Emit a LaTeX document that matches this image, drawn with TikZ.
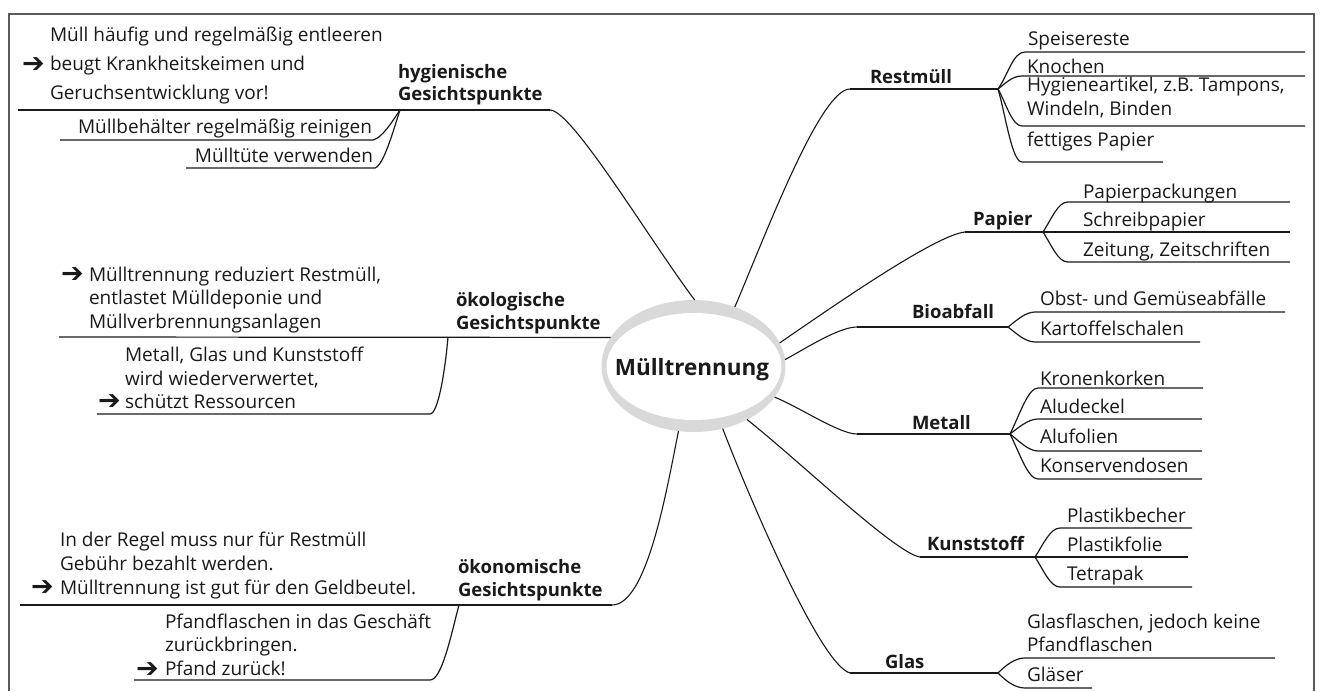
\documentclass[tikz,border=0pt]{standalone}
\usepackage{fontspec}
\setmainfont{Open Sans}
\newfontfamily\symfont{DejaVu Sans}
\usetikzlibrary{shapes.geometric}
\definecolor{ink}{HTML}{1A1A1A}
\definecolor{framegray}{HTML}{5A5A5A}
\definecolor{ring}{HTML}{D9D9D9}
\begin{document}
\begin{tikzpicture}[x=1pt,y=-1pt,
  txt/.style={anchor=base west,inner sep=0pt,outer sep=0pt,text=ink,font=\fontsize{19}{22}\selectfont},
  txtr/.style={txt,anchor=base east},
  lbl/.style={txt,font=\fontsize{18.5}{22}\selectfont\bfseries},
  arr/.style={anchor=center,inner sep=0pt,outer sep=0pt,text=ink,font=\fontsize{27}{27}\selectfont\symfont},
  conn/.style={draw=ink,line width=1.1pt},
  uline/.style={draw=ink,line width=1.2pt},
]
\useasboundingbox (0,0) rectangle (1322,691);
\fill[white] (0,0) rectangle (1322,691);
\draw[framegray,line width=2pt] (9,691) -- (9,14) -- (1314,14) -- (1314,691);

% hub
\node[ellipse,fill=ring,minimum width=184pt,minimum height=132pt,inner sep=0pt,outer sep=0pt] (hub) at (693.5,366) {};
\fill[white] (694,366.5) ellipse [x radius=87.5pt, y radius=53.5pt];
\node[anchor=base,inner sep=0pt,text=ink,font=\fontsize{22.5}{25}\selectfont\bfseries] (title) at (692,375) {Mülltrennung};

% ---------- hygienische Gesichtspunkte
\node[txt] (h1) at (50,41) {Müll häufig und regelmäßig entleeren};
\node[arr] (ha) at (33.5,65) {➔};
\node[txt] (h2) at (50,70) {beugt Krankheitskeimen und};
\node[txt] (h3) at (50,99) {Geruchsentwicklung vor!};
\node[lbl] (hygL1) at (398,78) {hygienische};
\node[lbl] (hygL2) at (398,100) {Gesichtspunkte};
\coordinate (hygS) at (18,110);
\coordinate (hygF) at (400,110);
\coordinate (hygE) at (550,110);
\draw[uline] (hygS) -- (hygE);
\draw[conn] (hygE) .. controls +(22,0) and +(-45,-60) .. (hub.89);
\node[txtr] (h4) at (372,133) {Müllbehälter regelmäßig reinigen};
\coordinate (h4s) at (60,140);
\coordinate (h4e) at (373,140);
\draw[uline] (h4s) -- (h4e) .. controls +(9,-2) and +(-8,12) .. (hygF);
\node[txtr] (h5) at (373,162) {Mülltüte verwenden};
\coordinate (h5s) at (186,168);
\coordinate (h5e) at (375,168);
\draw[uline] (h5s) -- (h5e) .. controls +(9,-3) and +(-6,18) .. (hygF);

% ---------- ökologische Gesichtspunkte
\node[arr] (oa) at (72.5,275) {➔};
\node[txt] (o1) at (89,281) {Mülltrennung reduziert Restmüll,};
\node[txt] (o2) at (89,304) {entlastet Mülldeponie und};
\node[txt] (o3) at (89,328) {Müllverbrennungsanlagen};
\node[lbl] (okoL1) at (456,306) {ökologische};
\node[lbl] (okoL2) at (456,329) {Gesichtspunkte};
\coordinate (okoS) at (59,337);
\coordinate (okoF) at (448,337);
\draw[uline] (okoS) -- (hub.161);
\node[txt] (o4) at (125,361) {Metall, Glas und Kunststoff};
\node[txt] (o5) at (125,385) {wird wiederverwertet,};
\node[arr] (ob) at (109.5,402) {➔};
\node[txt] (o6) at (125,408) {schützt Ressourcen};
\coordinate (o6s) at (97,414);
\coordinate (o6e) at (430,414);
\draw[uline] (o6s) -- (o6e) .. controls +(8,0) and +(-3,35) .. (okoF);

% ---------- ökonomische Gesichtspunkte
\node[txt] (k1) at (60,546) {In der Regel muss nur für Restmüll};
\node[txt] (k2) at (60,570) {Gebühr bezahlt werden.};
\node[arr] (ka) at (42.5,588) {➔};
\node[txt] (k3) at (60,594) {Mülltrennung ist gut für den Geldbeutel.};
\node[lbl] (konL1) at (458,573) {ökonomische};
\node[lbl] (konL2) at (458,596) {Gesichtspunkte};
\coordinate (konS) at (20,605);
\coordinate (konF) at (459,605);
\coordinate (konE) at (612,605);
\draw[uline] (konS) -- (konE);
\draw[conn] (konE) .. controls +(35,0) and +(-12,60) .. (hub.-103);
\node[txt] (k4) at (165,628) {Pfandflaschen in das Geschäft};
\node[txt] (k5) at (165,651) {zurückbringen.};
\node[arr] (kb) at (147.5,670) {➔};
\node[txt] (k6) at (165,675) {Pfand zurück!};
\coordinate (k6s) at (134,680);
\coordinate (k6e) at (430,680);
\draw[uline] (k6s) -- (k6e) .. controls +(12,0) and +(-8,30) .. (konF);

% ---------- Restmüll
\node[lbl] (restL) at (870,83) {Restmüll};
\coordinate (restS) at (850,89);
\coordinate (restF) at (998,89);
\draw[uline] (restS) -- (restF);
\draw[conn] (hub.55) .. controls +(30,-70) and +(-30,0) .. (restS);
\node[txt] (r1) at (1028,45) {Speisereste};
\coordinate (r1s) at (1025,52); \coordinate (r1e) at (1305,52);
\draw[uline] (restF) .. controls +(10,-14) and +(-12,0) .. (r1s) -- (r1e);
\node[txt] (r2) at (1027,73) {Knochen};
\coordinate (r2s) at (1022,76); \coordinate (r2e) at (1305,76);
\draw[uline] (restF) .. controls +(8,-6) and +(-10,0) .. (r2s) -- (r2e);
\node[txt] (r3) at (1027,91) {Hygieneartikel, z.B. Tampons,};
\node[txt] (r3b) at (1027,115) {Windeln, Binden};
\coordinate (r3s) at (1022,126); \coordinate (r3e) at (1305,126);
\draw[uline] (restF) .. controls +(8,14) and +(-10,0) .. (r3s) -- (r3e);
\node[txt] (r4) at (1027,146) {fettiges Papier};
\coordinate (r4s) at (1022,162); \coordinate (r4e) at (1163,162);
\draw[uline] (restF) .. controls +(8,28) and +(-10,0) .. (r4s) -- (r4e);

% ---------- Papier
\node[lbl] (papL) at (973,225) {Papier};
\coordinate (papS) at (965,232);
\coordinate (papF) at (1043,232);
\draw[uline] (papS) -- (papF);
\draw[conn] (hub.15) .. controls +(51,-35) and +(-30,3) .. (papS);
\node[txt] (p1) at (1083,198) {Papierpackungen};
\coordinate (p1s) at (1068,202); \coordinate (p1e) at (1290,202);
\draw[uline] (papF) .. controls +(9,-14) and +(-10,0) .. (p1s) -- (p1e);
\node[txt] (p2) at (1083,226) {Schreibpapier};
\coordinate (p2e) at (1290,232);
\draw[uline] (papF) -- (p2e);
\node[txt] (p3) at (1083,256) {Zeitung, Zeitschriften};
\coordinate (p3s) at (1068,262); \coordinate (p3e) at (1290,262);
\draw[uline] (papF) .. controls +(9,14) and +(-10,0) .. (p3s) -- (p3e);

% ---------- Bioabfall
\node[lbl] (bioL) at (912,318) {Bioabfall};
\coordinate (bioS) at (857,327);
\coordinate (bioF) at (1008,327);
\draw[uline] (bioS) -- (bioF);
\draw[conn] (hub.4) .. controls +(22,-12) and +(-18,0) .. (bioS);
\node[txt] (b1) at (1040,305) {Obst- und Gemüseabfälle};
\coordinate (b1s) at (1035,312); \coordinate (b1e) at (1285,312);
\draw[uline] (bioF) .. controls +(8,-6) and +(-10,0) .. (b1s) -- (b1e);
\node[txt] (b2) at (1040,335) {Kartoffelschalen};
\coordinate (b2s) at (1035,342); \coordinate (b2e) at (1200,342);
\draw[uline] (bioF) .. controls +(8,6) and +(-10,0) .. (b2s) -- (b2e);

% ---------- Metall
\node[lbl] (metL) at (912,429) {Metall};
\coordinate (metS) at (857,434);
\coordinate (metF) at (1010,434);
\draw[uline] (metS) -- (metF);
\draw[conn] (hub.-21) .. controls +(25,10) and +(-18,0) .. (metS);
\node[txt] (m1) at (1040,385) {Kronenkorken};
\coordinate (m1s) at (1038,388); \coordinate (m1e) at (1203,388);
\draw[uline] (metF) .. controls +(10,-20) and +(-10,0) .. (m1s) -- (m1e);
\node[txt] (m2) at (1040,413) {Aludeckel};
\coordinate (m2s) at (1038,419); \coordinate (m2e) at (1202,419);
\draw[uline] (metF) .. controls +(8,-6) and +(-10,0) .. (m2s) -- (m2e);
\node[txt] (m3) at (1040,443) {Alufolien};
\coordinate (m3s) at (1038,451); \coordinate (m3e) at (1202,451);
\draw[uline] (metF) .. controls +(8,6) and +(-10,0) .. (m3s) -- (m3e);
\node[txt] (m4) at (1040,472) {Konservendosen};
\coordinate (m4s) at (1038,479); \coordinate (m4e) at (1202,479);
\draw[uline] (metF) .. controls +(10,20) and +(-10,0) .. (m4s) -- (m4e);

% ---------- Kunststoff
\node[lbl] (kunL) at (927,550) {Kunststoff};
\coordinate (kunS) at (920,557);
\coordinate (kunF) at (1035,557);
\draw[uline] (kunS) -- (kunF);
\draw[conn] (hub.-45) .. controls +(53,42) and +(-25,-4) .. (kunS);
\node[txt] (u1) at (1067,522) {Plastikbecher};
\coordinate (u1s) at (1060,528); \coordinate (u1e) at (1192,528);
\draw[uline] (kunF) .. controls +(8,-12) and +(-10,0) .. (u1s) -- (u1e);
\node[txt] (u2) at (1067,551) {Plastikfolie};
\coordinate (u2e) at (1188,557);
\draw[uline] (kunF) -- (u2e);
\node[txt] (u3) at (1067,580) {Tetrapak};
\coordinate (u3s) at (1060,587); \coordinate (u3e) at (1192,587);
\draw[uline] (kunF) .. controls +(8,12) and +(-10,0) .. (u3s) -- (u3e);

% ---------- Glas
\node[lbl] (glasL) at (885,668) {Glas};
\coordinate (glasS) at (850,673);
\coordinate (glasF) at (998,673);
\draw[uline] (glasS) -- (glasF);
\draw[conn] (hub.-65) .. controls +(25,65) and +(-30,-8) .. (glasS);
\node[txt] (g1) at (1027,628) {Glasflaschen, jedoch keine};
\node[txt] (g1b) at (1027,651) {Pfandflaschen};
\coordinate (g1s) at (1025,658); \coordinate (g1e) at (1275,658);
\draw[uline] (glasF) .. controls +(8,-8) and +(-10,0) .. (g1s) -- (g1e);
\node[txt] (g2) at (1027,681) {Gläser};
\coordinate (g2s) at (1025,688); \coordinate (g2e) at (1092,688);
\draw[uline] (glasF) .. controls +(8,8) and +(-10,0) .. (g2s) -- (g2e);
\end{tikzpicture}
\end{document}
